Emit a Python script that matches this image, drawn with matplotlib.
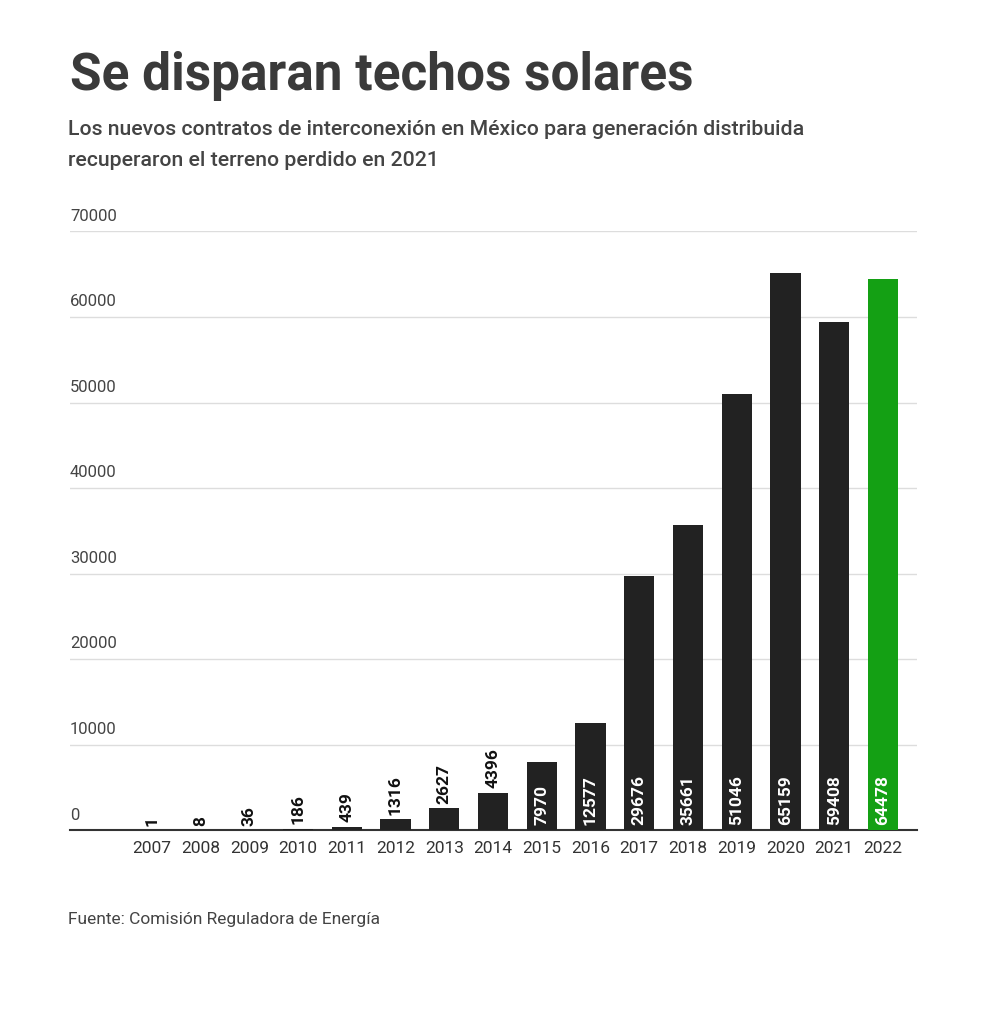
import matplotlib
matplotlib.use("Agg")
import matplotlib.pyplot as plt
from matplotlib.transforms import blended_transform_factory

years = [str(y) for y in range(2007, 2023)]
values = [1, 8, 36, 186, 439, 1316, 2627, 4396, 7970, 12577, 29676, 35661, 51046, 65159, 59408, 64478]
yticks = [0, 10000, 20000, 30000, 40000, 50000, 60000, 70000]

plt.rcParams['font.family'] = ['Roboto', 'DejaVu Sans']
fig = plt.figure(figsize=(10, 10.15), dpi=100)
ax = fig.add_axes([0.07, 0.182, 0.847, 0.590])
x = list(range(len(years)))
colors = ['#222222'] * (len(years) - 1) + ['#14a014']
ax.bar(x, values, width=0.62, color=colors, zorder=3)
ax.set_xlim(-1.68, 15.70)
ax.set_ylim(0, 70000)
for s in ['top', 'right', 'left']:
    ax.spines[s].set_visible(False)
ax.spines['bottom'].set_color('#333333')
ax.spines['bottom'].set_linewidth(1.5)
ax.set_yticks(yticks)
ax.set_yticklabels([])
ax.tick_params(axis='y', length=0)
ax.grid(axis='y', color='#dddddd', linewidth=1, zorder=0)
ax.set_xticks(x)
ax.set_xticklabels(years, fontsize=12.5, color='#333333')
ax.tick_params(axis='x', length=0, pad=8)
tr = blended_transform_factory(ax.transAxes, ax.transData)
for t in yticks:
    ax.text(0, t + 900, str(t), transform=tr, fontsize=12, color='#444444', ha='left', va='bottom')
for xi, v in zip(x, values):
    if v >= 7000:
        ax.text(xi, 600, str(v), rotation=90, ha='center', va='bottom', color='white',
                fontsize=12.5, fontweight='bold', zorder=4)
    else:
        ax.text(xi, v + 500, str(v), rotation=90, ha='center', va='bottom', color='#111111',
                fontsize=12.5, fontweight='bold', zorder=4)

fig.text(0.07, 0.925, "Se disparan techos solares", fontsize=37, fontweight='bold', color='#3a3a3a', va='center')
fig.text(0.068, 0.872, "Los nuevos contratos de interconexión en México para generación distribuida",
         fontsize=15.3, fontweight='medium', color='#444444', va='center')
fig.text(0.068, 0.842, "recuperaron el terreno perdido en 2021", fontsize=15.3, fontweight='medium',
         color='#444444', va='center')
fig.text(0.068, 0.094, "Fuente: Comisión Reguladora de Energía", fontsize=12.5, color='#444444', va='center')
fig.savefig("out.png", dpi=100, facecolor='white')
